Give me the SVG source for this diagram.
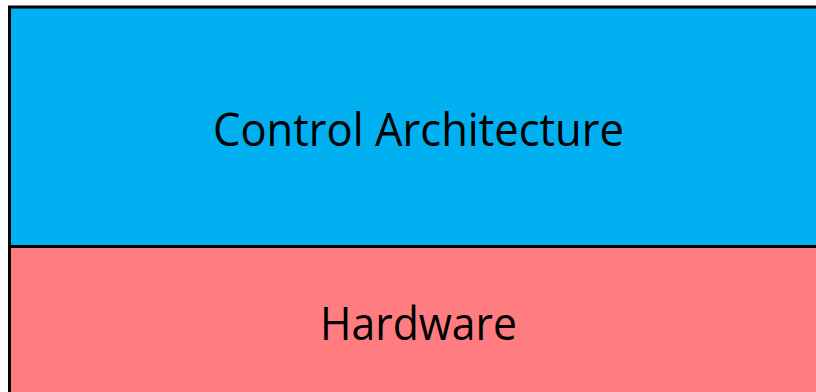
<svg xmlns="http://www.w3.org/2000/svg" width="816" height="392" viewBox="0 0 816 392">
<style>
.box{stroke:#000;stroke-width:3}
.lbl{font-family:"Open Sans","Liberation Sans",sans-serif;font-size:45px;fill:#000;text-anchor:middle}
</style>
<rect width="816" height="392" fill="#fff"/>
<g id="control">
<rect class="box" x="9.5" y="7" width="830" height="239.5" fill="#00B0F0"/>
<text class="lbl" x="418.5" y="146" textLength="411" lengthAdjust="spacingAndGlyphs">Control Architecture</text>
</g>
<g id="hardware">
<rect class="box" x="9.5" y="246.5" width="830" height="170" fill="#FF7C80"/>
<text class="lbl" x="418.5" y="340" textLength="197" lengthAdjust="spacingAndGlyphs">Hardware</text>
</g>
<g id="connectors"></g>
</svg>
